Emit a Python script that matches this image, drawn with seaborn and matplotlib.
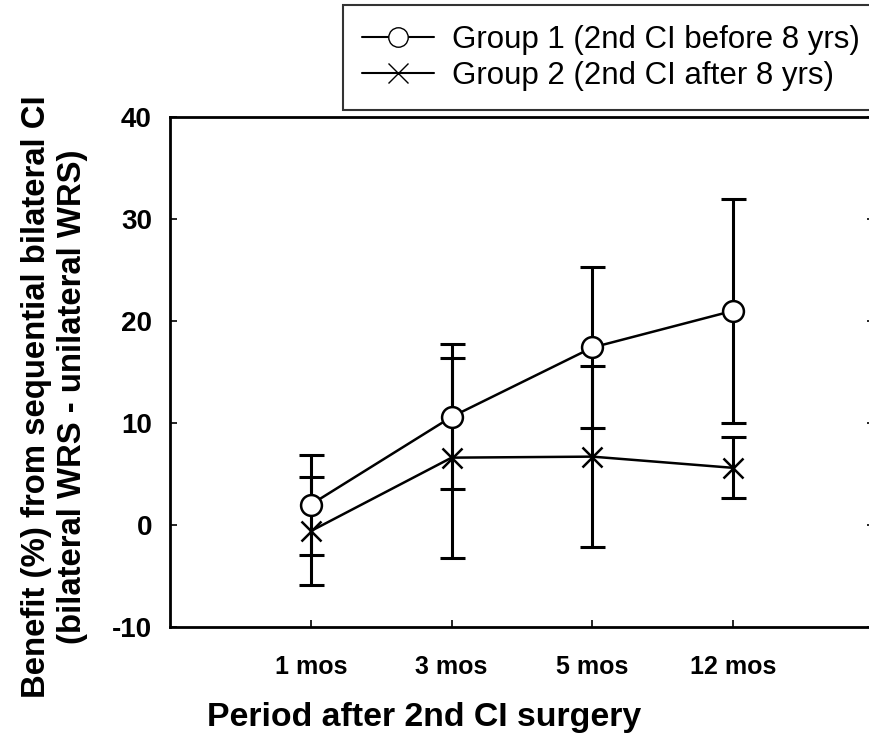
import numpy as np
import pandas as pd
import seaborn as sns
import matplotlib.pyplot as plt

periods = ["1 mos", "3 mos", "5 mos", "12 mos"]
group1_mean = [2.0, 10.6, 17.4, 21.0]
group1_err = [4.9, 7.1, 7.9, 11.0]
group2_mean = [-0.6, 6.6, 6.7, 5.6]
group2_err = [5.3, 9.8, 8.9, 3.0]
labels = ["Group 1 (2nd CI before 8 yrs)", "Group 2 (2nd CI after 8 yrs)"]

sns.set_theme(style="ticks")
plt.rcParams["font.family"] = ["Liberation Sans", "DejaVu Sans"]
plt.rcParams["axes.unicode_minus"] = False
plt.rcParams["text.color"] = "black"
plt.rcParams["axes.labelcolor"] = "black"

fig = plt.figure(figsize=(8.7, 7.39), dpi=100)
ax = fig.add_axes([0.1954, 0.1516, 0.8092, 0.6901])

xs = np.arange(len(periods))
for m, e in [(group1_mean, group1_err), (group2_mean, group2_err)]:
    ax.errorbar(xs, m, yerr=e, fmt="none", ecolor="black", elinewidth=2.2,
                capsize=9, capthick=2.2, zorder=1)

g1 = pd.DataFrame({"period": periods, "benefit": group1_mean})
g2 = pd.DataFrame({"period": periods, "benefit": group2_mean})
sns.lineplot(data=g1, x="period", y="benefit", color="black", marker="o", sort=False,
             ax=ax, linewidth=1.8, markersize=15, markerfacecolor="white",
             markeredgecolor="black", markeredgewidth=1.8, zorder=3)
sns.lineplot(data=g2, x="period", y="benefit", color="black", marker="x", sort=False,
             ax=ax, linewidth=1.8, markersize=15, markeredgecolor="black",
             markeredgewidth=1.8, zorder=3)

ax.set_xlim(-1, 4)
ax.set_ylim(-10, 40)
ax.set_yticks([-10, 0, 10, 20, 30, 40])
ax.set_xticks(xs)
ax.set_xticklabels(periods)
for s in ax.spines.values():
    s.set_linewidth(2)
    s.set_color("black")
ax.spines["right"].set_visible(False)
ax.tick_params(axis="both", direction="in", length=5, width=1.2, colors="black",
               labelsize=20)
ax.tick_params(axis="y", right=True, pad=13)
ax.tick_params(axis="x", pad=20, labelsize=18)
for t in ax.get_xticklabels() + ax.get_yticklabels():
    t.set_fontweight("bold")

ax.set_xlabel("Period after 2nd CI surgery", fontsize=24.4, fontweight="bold")
ax.xaxis.set_label_coords(0.361, -0.147)
ax.set_ylabel("Benefit (%) from sequential bilateral CI\n(bilateral WRS - unilateral WRS)",
              fontsize=23.7, fontweight="bold", linespacing=1.2)
ax.yaxis.set_label_coords(-0.1165, 0.452)

h1, = ax.plot([], [], color="black", lw=1.5, marker="o", markersize=14,
              markerfacecolor="white", markeredgecolor="black")
h2, = ax.plot([], [], color="black", lw=1.5, marker="x", markersize=14)
leg = fig.legend([h1, h2], labels, loc="upper left", mode="expand",
                 bbox_to_anchor=(343 / 870, 0.2, 540 / 870, 0.793),
                 fontsize=22.5, frameon=True, fancybox=False, handlelength=2.3,
                 handletextpad=0.57, borderpad=0.62, labelspacing=0.2,
                 borderaxespad=0)
leg.get_frame().set_edgecolor("black")
leg.get_frame().set_linewidth(1.5)

fig.savefig("out.png", dpi=100)
